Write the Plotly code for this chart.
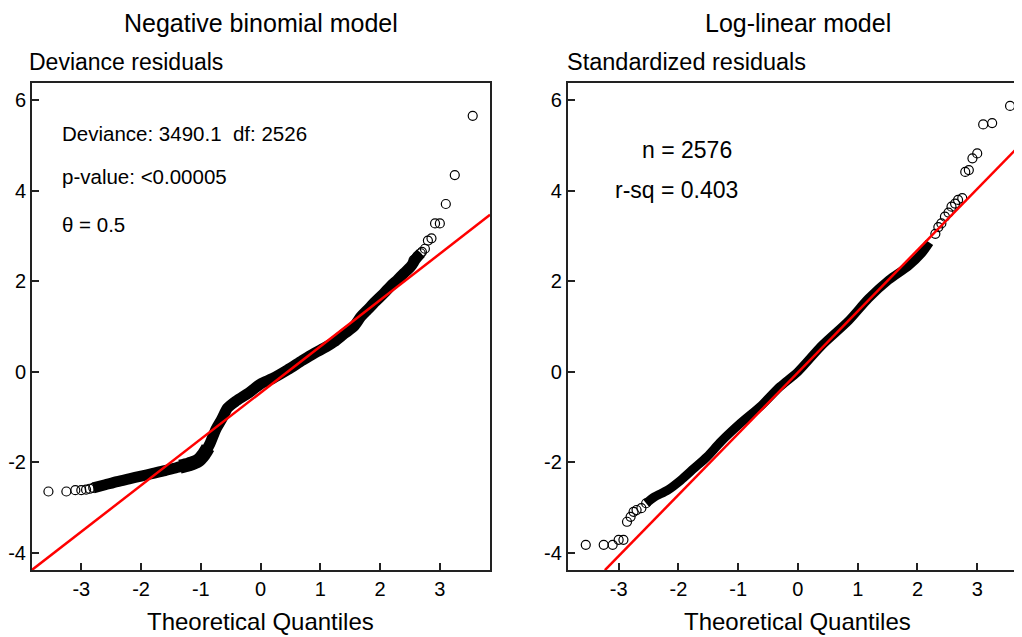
import plotly.graph_objects as go

# ---------------- data ----------------
# Negative binomial model: deviance residuals vs theoretical quantiles
nb_tail_q = [-3.55, -3.25, -3.10, -3.00, -2.92, -2.86, -2.80,
             2.56, 2.62, 2.68, 2.70, 2.75, 2.80, 2.86, 2.92, 3.00, 3.10, 3.25, 3.55]
nb_tail_r = [-2.65, -2.65, -2.62, -2.62, -2.61, -2.59, -2.57,
             2.47, 2.55, 2.62, 2.65, 2.72, 2.90, 2.95, 3.28, 3.28, 3.71, 4.35, 5.66]
nb_band_q = [-2.80, -2.60, -2.40, -2.20, -2.00, -1.80, -1.60, -1.40, -1.20, -1.05,
             -0.95, -0.85, -0.75, -0.65, -0.55, -0.40, -0.20, 0.00, 0.20, 0.45,
             0.70, 0.90, 1.10, 1.23, 1.40, 1.56, 1.68, 1.79, 1.92, 2.06, 2.18,
             2.29, 2.40, 2.51, 2.60, 2.68]
nb_band_r = [-2.57, -2.50, -2.43, -2.37, -2.31, -2.25, -2.19, -2.12, -2.05, -1.97,
             -1.83, -1.60, -1.28, -1.05, -0.80, -0.64, -0.47, -0.27, -0.15, 0.04,
             0.25, 0.41, 0.55, 0.66, 0.84, 1.00, 1.22, 1.37, 1.55, 1.73, 1.90,
             2.03, 2.18, 2.32, 2.50, 2.62]
nb_thick_q = [-1.35, -1.20, -1.05, -0.95, -0.88]
nb_thick_r = [-2.10, -2.05, -1.97, -1.83, -1.68]
nb_line_q = [-3.83, 3.84]
nb_line_r = [-4.39, 3.47]

# Log-linear model: standardized residuals vs theoretical quantiles
ll_tail_q = [-3.55, -3.25, -3.10, -3.00, -2.92, -2.86, -2.80, -2.75, -2.70, -2.62, -2.54,
             2.30, 2.35, 2.40, 2.46, 2.52, 2.57, 2.63, 2.68, 2.75, 2.80, 2.86, 2.92,
             3.00, 3.10, 3.25, 3.55]
ll_tail_r = [-3.83, -3.83, -3.83, -3.72, -3.72, -3.32, -3.21, -3.10, -3.06, -3.02, -2.91,
             3.05, 3.20, 3.28, 3.43, 3.52, 3.65, 3.72, 3.80, 3.84, 4.42, 4.46, 4.72,
             4.83, 5.47, 5.50, 5.88]
ll_band_q = [-2.54, -2.40, -2.18, -1.96, -1.74, -1.52, -1.29, -0.96, -0.63, -0.30,
             0.00, 0.40, 0.85, 1.18, 1.52, 1.85, 2.07, 2.20]
ll_band_r = [-2.91, -2.77, -2.62, -2.40, -2.14, -1.88, -1.55, -1.14, -0.77, -0.33,
             0.00, 0.58, 1.13, 1.62, 2.03, 2.34, 2.62, 2.86]
ll_line_q = [-3.23, 3.84]
ll_line_r = [-4.39, 5.18]

x_ticks = [-3, -2, -1, 0, 1, 2, 3]
x_tick_labels = ["-3", "-2", "-1", "0", "1", "2", "3"]
y_ticks = [-4, -2, 0, 2, 4, 6]
y_tick_labels = ["-4", "-2", "0", "2", "4", "6"]

# ---------------- figure ----------------
FONT = "Liberation Sans, Arial, sans-serif"
fig = go.Figure()

def add_panel(xa, ya, band_q, band_r, band_w, tail_q, tail_r, line_q, line_r):
    fig.add_trace(go.Scatter(x=band_q, y=band_r, mode="lines", xaxis=xa, yaxis=ya,
                             line=dict(color="black", width=band_w, shape="spline", smoothing=0.8),
                             hoverinfo="skip"))
    fig.add_trace(go.Scatter(x=tail_q, y=tail_r, mode="markers", xaxis=xa, yaxis=ya,
                             marker=dict(symbol="circle-open", size=9, color="black",
                                         line=dict(width=1.2, color="black"))))
    fig.add_trace(go.Scatter(x=line_q, y=line_r, mode="lines", xaxis=xa, yaxis=ya,
                             line=dict(color="#ff0000", width=2.5)))

fig.add_trace(go.Scatter(x=nb_thick_q, y=nb_thick_r, mode="lines", xaxis="x", yaxis="y",
                         line=dict(color="black", width=14, shape="spline", smoothing=0.8),
                         hoverinfo="skip"))
add_panel("x", "y", nb_band_q, nb_band_r, 11, nb_tail_q, nb_tail_r, nb_line_q, nb_line_r)
add_panel("x2", "y2", ll_band_q, ll_band_r, 9, ll_tail_q, ll_tail_r, ll_line_q, ll_line_r)

axis_common = dict(showgrid=False, zeroline=False, showline=True, linecolor="#222",
                   linewidth=2, ticks="inside", ticklen=7, tickwidth=2, tickcolor="#222",
                   mirror=True, tickfont=dict(family=FONT, size=20, color="black"))

# page has an 8px body margin; frame sits at page x 30..490 / 568..(1029), y 83..570
fig.update_layout(
    width=1022, height=637,
    margin=dict(l=22, r=0, t=75, b=75),
    paper_bgcolor="white", plot_bgcolor="white",
    showlegend=False,
    font=dict(family=FONT, color="black"),
    xaxis=dict(domain=[0, 0.46], range=[-3.825, 3.842], tickvals=x_ticks,
               ticktext=x_tick_labels, anchor="y", **axis_common),
    yaxis=dict(domain=[0, 1], range=[-4.387, 6.387], tickvals=y_ticks,
               ticktext=y_tick_labels, anchor="x", **axis_common),
    xaxis2=dict(domain=[0.538, 1.0], range=[-3.85, 3.85], tickvals=x_ticks,
                ticktext=x_tick_labels, anchor="y2", **axis_common),
    yaxis2=dict(domain=[0, 1], range=[-4.387, 6.387], tickvals=y_ticks,
                ticktext=y_tick_labels, anchor="x2", **axis_common),
)

ann = []
# panel titles
ann.append(dict(text="Negative binomial model", xref="x", yref="paper", x=0, y=1.123,
                xanchor="center", yanchor="middle", showarrow=False,
                font=dict(family=FONT, size=25)))
ann.append(dict(text="Log-linear model", xref="x2", yref="paper", x=0, y=1.123,
                xanchor="center", yanchor="middle", showarrow=False,
                font=dict(family=FONT, size=25)))
ann.append(dict(text="Deviance residuals", xref="paper", yref="paper", x=-0.005, y=1.043,
                xanchor="left", yanchor="middle", showarrow=False,
                font=dict(family=FONT, size=23)))
ann.append(dict(text="Standardized residuals", xref="paper", yref="paper", x=0.535, y=1.043,
                xanchor="left", yanchor="middle", showarrow=False,
                font=dict(family=FONT, size=23.5)))
# x-axis titles
for xr in ("x", "x2"):
    ann.append(dict(text="Theoretical Quantiles", xref=xr, yref="paper", x=0, y=-0.106,
                    xanchor="center", yanchor="middle", showarrow=False,
                    font=dict(family=FONT, size=24)))
# statistics text
for txt, yy in (("Deviance: 3490.1\u00a0 df: 2526", 5.28),
                ("p-value: <0.00005", 4.31),
                ("\u03b8 = 0.5", 3.25)):
    ann.append(dict(text=txt, xref="x", yref="y", x=-3.36, y=yy, xanchor="left",
                    yanchor="middle", showarrow=False, font=dict(family=FONT, size=20.5)))
ann.append(dict(text="n = 2576", xref="x2", yref="y2", x=-1.86, y=4.90, xanchor="center",
                yanchor="middle", showarrow=False, font=dict(family=FONT, size=23)))
ann.append(dict(text="r-sq = 0.403", xref="x2", yref="y2", x=-2.04, y=4.02, xanchor="center",
                yanchor="middle", showarrow=False, font=dict(family=FONT, size=23)))
fig.update_layout(annotations=ann)

fig.write_html("out.html")
